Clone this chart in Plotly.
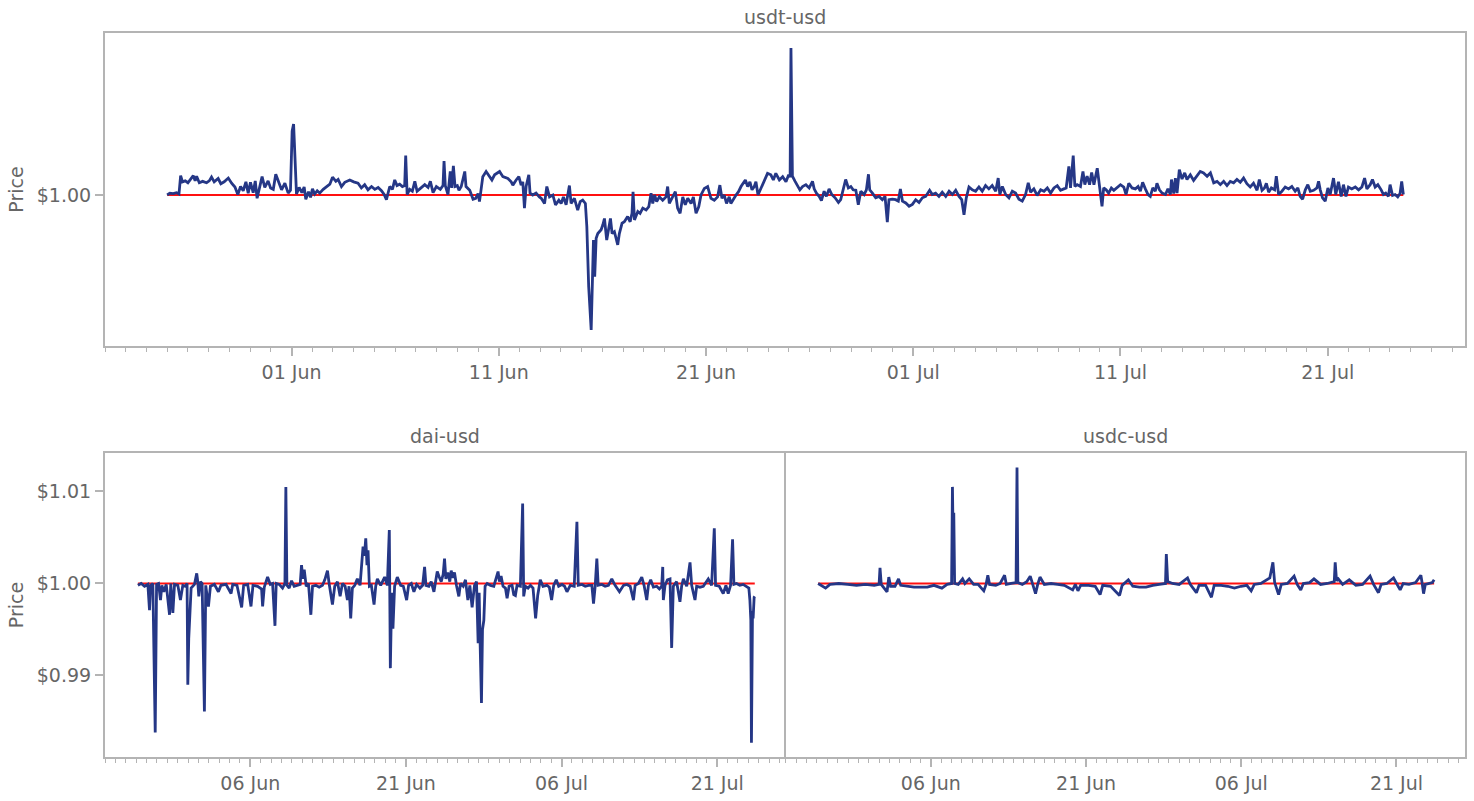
import plotly.graph_objects as go
import pandas as pd

START = pd.Timestamp("2022-05-23")
X_RANGE = ["2022-05-23", "2022-07-27 15:00"]

# usdt-usd: time (days after 23 May 2022) and deviation from $1 in basis points
usdt_day = [3.00, 3.13, 3.29, 3.45, 3.57, 3.65, 3.74, 3.87, 4.00, 4.10, 4.26, 4.35, 4.42, 4.55, 4.71, 4.90,
            5.03, 5.14, 5.27, 5.46, 5.59, 5.75, 5.95, 6.11, 6.27, 6.41, 6.54, 6.67, 6.80, 6.91, 7.02, 7.15,
            7.25, 7.34, 7.47, 7.58, 7.71, 7.87, 7.99, 8.12, 8.24, 8.36, 8.52, 8.68, 8.84, 8.95, 9.03, 9.10,
            9.16, 9.24, 9.37, 9.50, 9.61, 9.69, 9.82, 9.92, 10.01, 10.12, 10.24, 10.36, 10.53, 10.69, 10.85,
            10.98, 11.14, 11.25, 11.41, 11.57, 11.81, 12.00, 12.21, 12.37, 12.53, 12.69, 12.86, 13.02, 13.18,
            13.34, 13.47, 13.58, 13.74, 13.87, 13.98, 14.09, 14.22, 14.35, 14.46, 14.51, 14.58, 14.70, 14.83,
            14.95, 15.06, 15.22, 15.43, 15.59, 15.70, 15.83, 15.99, 16.18, 16.31, 16.36, 16.42, 16.55, 16.66,
            16.73, 16.81, 16.89, 17.00, 17.08, 17.19, 17.36, 17.42, 17.60, 17.76, 17.89, 18.00,
            18.07, 18.23, 18.39, 18.55, 18.67, 18.80, 19.04, 19.20, 19.44, 19.60, 19.68, 19.84, 19.97, 20.08,
            20.16, 20.24, 20.32, 20.45, 20.51, 20.64, 20.80, 20.96, 21.05, 21.21, 21.32, 21.45, 21.61, 21.74,
            21.90, 22.01, 22.12, 22.25, 22.41, 22.49, 22.65, 22.81, 22.93, 23.05, 23.18, 23.25, 23.34, 23.46,
            23.50, 23.57, 23.63, 23.70, 23.78, 23.94, 24.02, 24.10, 24.21, 24.31, 24.39, 24.47, 24.58, 24.66,
            24.74, 24.82, 24.95, 25.06, 25.22, 25.34, 25.43, 25.48, 25.55, 25.71, 25.82, 25.95, 26.11, 26.24,
            26.35, 26.43, 26.52, 26.62, 26.75, 26.91, 27.07, 27.15, 27.23, 27.39, 27.52, 27.63, 27.75, 27.88,
            28.00, 28.12, 28.28, 28.39, 28.52, 28.65, 28.76, 28.92, 29.08, 29.24, 29.40, 29.56, 29.67, 29.77,
            29.88, 29.99, 30.12, 30.20, 30.37, 30.45, 30.57, 30.69, 30.90, 31.01, 31.12, 31.22, 31.33, 31.41,
            31.51, 31.65, 31.81, 31.97, 32.13, 32.25, 32.37, 32.54, 32.70, 32.86, 32.99,
            33.06, 33.10, 33.14, 33.17, 33.30, 33.41, 33.53, 33.66, 33.82, 33.98, 34.14, 34.22, 34.33, 34.46,
            34.57, 34.70, 34.81, 34.94, 35.07, 35.23, 35.39, 35.50, 35.66, 35.74, 35.87, 35.99, 36.10, 36.23,
            36.35, 36.47, 36.63, 36.74, 36.84, 36.90, 37.03, 37.19, 37.35, 37.51, 37.64, 37.75, 37.83, 37.99,
            38.15, 38.28, 38.38, 38.48, 38.64, 38.80, 38.96, 39.12, 39.28, 39.44, 39.60, 39.79, 39.92, 40.08,
            40.24, 40.40, 40.57, 40.73, 40.89, 41.05, 41.21, 41.34, 41.45, 41.56, 41.69, 41.85, 42.01, 42.17,
            42.33, 42.49, 42.65, 42.81, 42.98, 43.10, 43.18, 43.30, 43.46, 43.62, 43.78, 43.94, 44.10, 44.26,
            44.42, 44.55, 44.66, 44.82, 44.98, 45.15, 45.31, 45.47, 45.63, 45.79, 45.95, 46.11, 46.27, 46.38,
            46.51, 46.59, 46.72, 46.80, 46.91, 47.07, 47.19, 47.28, 47.39, 47.51, 47.61, 47.72, 47.88,
            48.11, 48.19, 48.31, 48.43, 48.56, 48.68, 48.84, 49.00, 49.16, 49.27, 49.40, 49.56, 49.72, 49.85,
            49.96, 50.07, 50.20, 50.33, 50.44, 50.56, 50.68, 50.76, 50.88, 51.01, 51.17, 51.29, 51.41, 51.46,
            51.57, 51.65, 51.73, 51.84, 51.97, 52.10, 52.21, 52.37, 52.53, 52.69, 52.85, 53.01, 53.18, 53.34,
            53.50, 53.66, 53.82, 53.98, 54.14, 54.30, 54.46, 54.62, 54.78, 54.94, 55.10, 55.26, 55.42, 55.59,
            55.70, 55.83, 55.95, 56.04, 56.15, 56.28, 56.44, 56.52, 56.63, 56.79, 56.95, 57.11, 57.27, 57.43,
            57.56, 57.67, 57.79, 57.92, 58.04, 58.16, 58.32, 58.48, 58.56, 58.64, 58.75, 58.88, 59.01, 59.12,
            59.28, 59.39, 59.52, 59.65, 59.76, 59.88, 60.00, 60.16, 60.33, 60.49, 60.65, 60.78, 60.89, 61.05,
            61.16, 61.29, 61.42, 61.58, 61.69, 61.80, 61.93, 62.01, 62.13, 62.25, 62.38, 62.49, 62.57, 62.65]
usdt_bp = [0.0, 0.4, 0.3, 0.5, 0.2, 4.1, 2.8, 3.0, 2.6, 3.2, 4.1, 3.0, 4.0, 2.6, 2.9, 2.6,
           3.0, 3.8, 2.8, 3.5, 2.4, 2.8, 3.6, 2.5, 1.7, 0.1, 1.8, 0.9, 2.8, 0.4, 2.7, 0.5,
           3.0, -0.7, 2.2, 3.9, 1.6, 3.0, 1.5, 1.2, 4.4, 2.8, 1.1, 2.5, 0.4, 1.0, 13.6, 15.1,
           9.0, 0.2, 1.6, 0.5, 1.7, -0.9, 0.7, -0.5, 1.3, 0.2, 0.9, 0.4, 1.2, 1.8, 2.3,
           3.8, 2.9, 3.3, 1.8, 2.7, 3.2, 2.8, 2.5, 1.5, 2.2, 1.1, 1.8, 1.2, 1.6,
           0.9, 0.1, -1.0, 1.8, 1.2, 3.2, 2.0, 2.3, 1.8, 2.0, 8.4, 0.1, 1.2, 0.8,
           2.9, 0.8, 1.4, 2.2, 1.6, 2.9, 0.5, 1.8, 1.2, 2.0, 7.2, 2.0, 0.1, 5.0,
           1.5, 6.2, 1.8, 2.0, 1.0, 1.8, 5.0, 1.8, 1.0, -0.9, -0.7, 0.3,
           -1.4, 3.9, 5.0, 3.9, 3.2, 4.3, 5.0, 3.9, 3.5, 2.8, 2.1, 3.2, 3.9, 2.1,
           2.8, -2.8, 1.8, 4.3, 0.4, 0.0, 0.4, -0.4, -0.7, -1.8, 1.8, -0.4, 0.0, -2.1,
           -1.1, -1.8, -0.4, -2.1, 2.0, -1.8, -0.7, -3.2, -1.4, -1.1, -1.8, -6.7, -19.5, -28.7,
           -20.9, -9.6, -17.4, -9.2, -8.2, -7.4, -6.4, -5.0, -9.6, -6.7, -5.0, -8.2, -7.8, -9.2,
           -10.6, -8.2, -6.0, -5.7, -4.6, -5.7, -3.9, 0.7, -5.3, -3.5, -3.9, -2.8, -3.2, -2.5,
           0.4, -1.8, 0.0, -1.4, -0.4, -1.1, -0.4, 1.8, -1.8, -0.4, 0.7, -2.8, -3.9, -0.4,
           -2.1, -0.7, -1.8, -0.4, -3.9, -2.5, 0.0, 1.4, 1.8, -0.7, -1.1, -0.4, 2.1, -0.7,
           0.0, -1.8, -0.4, -1.8, -0.4, 0.0, 0.7, 1.8, 3.2, 1.8, 2.8, 1.1, 1.8, 2.8,
           0.0, 1.4, 2.8, 4.6, 4.3, 3.2, 4.6, 3.2, 3.9, 2.8, 4.3,
           3.8, 31.3, 9.0, 4.0, 2.9, 2.0, 1.1, 1.8, 2.2, 1.5, 2.9, 1.3, 0.4, -0.3,
           -1.2, 0.8, -0.3, 1.3, 0.1, -0.6, -1.6, -1.0, 1.8, 3.3, 1.5, 1.8, 1.1, 1.0,
           -2.1, 0.8, 0.1, 1.1, 4.4, 1.1, 0.4, -0.6, -0.3, -1.0, -0.3, -5.8, -1.0, -0.9,
           -1.0, -1.3, 1.3, -1.3, -1.7, -2.4, -2.0, -1.0, -1.6, -0.6, -0.3, 1.0, 0.1, 0.4,
           -0.3, 0.6, -0.3, 0.8, 0.1, 1.0, -0.3, -1.0, -4.2, -0.6, 1.7, 1.1, 0.8, 1.7,
           0.8, 2.0, 1.3, 2.0, 0.8, 3.6, 0.1, 1.8, 0.1, -0.6, 0.8, 0.4, -0.9, -1.3,
           0.1, 2.6, 0.6, 1.3, -0.1, 1.1, 0.8, 1.5, 0.4, 1.5, 2.0, 1.0, 1.3, 1.5,
           6.1, 1.5, 8.4, 1.8, 2.2, 1.8, 5.0, 2.2, 4.0, 2.2, 4.8, 2.2, 5.7,
           -2.4, 1.5, 1.1, 0.4, 1.5, 1.0, 1.7, 2.2, 1.7, 0.1, 2.5, 1.5, 1.3, 1.8,
           0.8, 2.7, 1.3, 0.1, -0.3, 1.5, 0.8, 2.5, 1.1, 0.4, 0.1, 1.3, 0.1, 3.3,
           0.3, 3.6, 0.4, 5.4, 3.4, 4.7, 3.3, 4.3, 3.1, 4.0, 5.0, 4.7, 4.0, 4.7,
           2.6, 2.9, 2.2, 2.9, 2.0, 2.9, 2.6, 3.3, 2.7, 3.6, 2.4, 1.7, 2.5, 1.0,
           3.3, 1.0, 1.5, 2.5, 0.6, 1.5, 1.1, 4.0, 0.1, 0.8, 1.7, 1.3, 1.8, 0.8,
           1.5, -0.3, -0.9, 1.1, 2.2, 0.8, 1.0, 1.5, 2.9, 1.1, -0.6, -1.3, 1.5, 0.1,
           3.6, 0.1, 2.8, -0.3, 2.2, -0.3, 1.7, 1.3, 1.7, 1.1, 1.7, 3.6, 1.3, 2.2,
           3.3, 1.7, 2.2, 1.1, 0.1, 0.4, -0.3, 2.2, -0.1, 0.1, -0.4, 0.3, 2.9, 0.1]

# dai-usd
dai_day = [3.17, 3.49, 3.81, 4.13, 4.29, 4.39, 4.61, 4.84, 4.97, 5.16, 5.35, 5.48, 5.67, 5.90, 6.22, 6.34,
           6.54, 6.70, 7.02, 7.27, 7.50, 7.75, 7.91, 7.98, 8.07, 8.17, 8.30, 8.62, 8.84, 8.94, 9.04, 9.20,
           9.36, 9.58, 9.71, 9.97, 10.16, 10.54, 10.93, 11.18, 11.66, 12.15, 12.31, 12.72, 13.17, 13.36,
           13.75, 14.07, 14.26, 14.71, 15.09, 15.19, 15.35, 15.67, 15.93, 16.15, 16.38, 16.50, 16.79, 17.11,
           17.34, 17.43, 17.53, 17.75, 17.98, 18.23, 18.56, 18.81, 18.94, 19.07, 19.20, 19.39, 19.61, 19.84,
           20.00, 20.32, 20.64, 20.96, 21.18, 21.44, 21.60, 21.92, 22.14, 22.40, 22.66, 22.88, 23.14, 23.36,
           23.52, 23.68, 23.84, 24.07, 24.32, 24.58, 24.87, 25.00, 25.13, 25.25, 25.35, 25.48, 25.67, 25.93,
           26.09, 26.25, 26.57, 26.95, 27.21, 27.40, 27.50, 27.63, 27.75, 27.91, 28.17, 28.49, 28.75, 29.07,
           29.26, 29.52, 29.77, 30.03, 30.35, 30.61, 30.80, 30.93, 31.21, 31.44, 31.70, 31.86, 32.02, 32.21,
           32.40, 32.59, 32.72, 32.85, 33.04, 33.23, 33.36, 33.55, 33.68, 33.87, 34.10,
           34.26, 34.52, 34.74, 34.97, 35.16, 35.38, 35.61, 35.80, 35.96, 36.06, 36.15, 36.28, 36.38, 36.51,
           36.63, 36.83, 37.15, 37.47, 37.88, 38.01, 38.17, 38.36, 38.59, 38.75, 38.94, 39.23, 39.39, 39.55,
           39.71, 40.03, 40.25, 40.35, 40.51, 40.77, 41.00, 41.25, 41.50, 41.70, 41.95, 42.21, 42.59, 42.82,
           43.04, 43.24, 43.49, 43.72, 44.04, 44.29, 44.52, 44.84, 45.22, 45.48, 45.61, 45.96, 46.28, 46.60,
           46.92, 47.08, 47.24, 47.40, 47.53, 47.88, 48.20, 48.52, 48.84, 49.16, 49.58, 49.97, 50.29, 50.61,
           50.93, 51.09, 51.41, 51.73, 51.95, 52.21, 52.37, 52.59, 52.85, 53.17, 53.43, 53.65, 53.75, 53.81,
           53.97, 54.20, 54.45, 54.61, 54.77, 55.09, 55.41, 55.57, 55.74, 56.06, 56.38, 56.54, 56.70, 56.86,
           57.02, 57.34, 57.66, 58.14, 58.46, 58.72, 58.84, 59.20, 59.58, 59.84, 60.06, 60.29, 60.48, 60.61,
           60.86, 61.18, 61.50, 61.82, 62.05, 62.15, 62.24, 62.30, 62.40, 62.46, 62.56, 62.62]
dai_bp = [-2, 0, -3, -1, -29, -2, 0, -162, -1, 0, -18, -2, -9, -1, -34, 0,
          -32, -1, -2, -18, -2, -3, 0, -110, -60, -36, -5, -1, 11, 2, -14, 2,
          0, -139, -2, -25, -3, -1, -9, -2, -1, -11, -1, -2, -26, -2,
          -1, -25, -2, -3, -6, -25, -4, 7, -1, 0, -46, 0, -1, -5,
          0, 105, -2, -5, 3, -3, -2, -1, 20, 5, 15, -3, 0, -34,
          -3, -2, -4, -2, 4, 14, 0, -23, -3, 2, -14, 0, -3, -18,
          -3, -38, -5, -2, 5, -2, 40, 30, 49, 20, 36, -3, -2, -23,
          -3, 5, -2, 7, -2, 58, -92, -10, -49, -3, 7, -2, -3, -18,
          -2, 0, -9, -1, -5, -2, 18, -2, -3, 2, -9, 2, 13, 7,
          2, 10, 27, 5, 12, 2, 14, 6, 12, -2, -14,
          0, -3, 4, -18, -2, -26, -2, 2, -65, -10, -64, -130, -50, -40,
          -3, 0, -2, -3, 13, 2, 8, -3, -5, -16, -3, -2, -12, -13,
          -2, -3, 87, -14, -3, -5, -2, -5, -38, -13, 4, -3, -2, -4,
          -18, -2, 4, -3, -1, -3, -9, -2, -3, 67, -2, -1, -3, -2,
          -2, -22, -3, 27, -2, -1, -3, -2, 5, -2, -9, -2, -1, -3,
          -18, -2, 0, 7, -2, -18, -2, 4, -4, -3, -6, -3, 18, -18,
          -2, 4, 5, -70, -3, 2, -20, -3, 5, -3, 23, -2, -10, -18,
          -3, -4, -3, 5, -2, 60, -2, -3, -11, -2, -11, -2, 48, -1,
          0, -2, -1, -3, -5, -18, -40, -173, -30, -38, -15, -14]

# usdc-usd
usdc_day = [3.11, 3.83, 4.26, 5.11, 5.97, 6.82, 7.68, 8.53, 9.00, 9.09, 9.21, 9.77, 9.94, 10.11, 10.54, 10.88,
            11.09, 11.73, 12.38, 13.02, 13.66, 14.30, 15.07, 15.58, 16.01, 16.09, 16.18, 16.22, 16.30, 16.65,
            17.07, 17.29, 17.71, 18.14, 18.57, 19.12, 19.34, 19.51, 19.68, 20.28, 20.70, 21.13, 21.30, 21.77,
            22.24, 22.33, 22.41, 22.84, 23.27, 23.61, 23.87, 24.12, 24.33, 24.55, 24.97, 25.62, 26.26, 26.90,
            27.71, 27.97, 28.22, 28.48, 29.25, 29.89, 30.36, 30.61, 31.38, 32.24, 32.49, 33.09, 33.52, 34.16,
            34.80, 35.44, 36.08, 36.68, 36.76, 36.89, 37.36, 38.00, 38.81, 39.07, 39.67, 39.92, 40.56, 41.12,
            41.38, 42.06, 42.70, 43.34, 43.98, 44.54, 44.96, 45.26, 45.90, 46.76, 47.06, 47.23, 47.61, 47.87,
            48.47, 49.11, 49.41, 49.75, 50.00, 50.60, 51.03, 51.67, 52.31, 52.99, 53.08, 53.21, 53.38, 53.80,
            54.44, 55.08, 55.73, 56.45, 56.79, 57.26, 57.52, 58.07, 58.72, 59.06, 59.36, 59.65, 60.21, 60.85,
            61.36, 61.49, 61.62, 61.79, 62.13, 62.47, 62.64]
usdc_bp = [0, -5, -1, 0, -1, -2, -1, -2, -1, 17, -1, -9, 7, -3, -3, 5,
           -2, -3, -4, -4, -4, -2, -5, -1, 0, 105, 30, 77, 0, -1,
           5, 0, 5, -1, -1, -8, -1, 9, -1, -2, 0, 9, -1, 0,
           1, 126, 1, -1, 2, 8, -1, -11, -1, 7, -1, 0, -1, -2,
           -7, -1, -8, -2, -2, -3, -12, -2, -3, -13, -2, 4, -3, -4,
           -4, -2, -1, 0, 32, 2, 0, -1, 6, -1, -10, -2, -2, -15,
           -2, -2, -3, -5, -3, -2, -8, -1, 0, 6, 23, 1, -12, -1,
           0, 8, -1, -7, 0, 1, 5, -1, 0, 2, 23, 3, 5, -1,
           4, -2, -1, 8, -1, -10, -1, 0, 6, -1, -7, 0, -1, 1,
           9, 0, -11, -1, 0, 1, 4]

BLUE = "#253786"
RED = "#ff1010"
AXC = "#b4b4b4"
TXT = "#666666"
FONT = "DejaVu Sans"
FS = 19


def to_x(days):
    return [START + pd.Timedelta(days=d) for d in days]


def to_price(bp):
    return [1 + b / 10000 for b in bp]


series = [("usdt", usdt_day, usdt_bp, "x", "y"),
          ("dai", dai_day, dai_bp, "x2", "y2"),
          ("usdc", usdc_day, usdc_bp, "x3", "y3")]

fig = go.Figure()
for name, d, bp, xa, ya in series:
    xs = to_x(d)
    fig.add_trace(go.Scatter(x=[xs[0], xs[-1]], y=[1.0, 1.0], mode="lines",
                             line=dict(color=RED, width=2.2), xaxis=xa, yaxis=ya,
                             showlegend=False, hoverinfo="skip"))
    fig.add_trace(go.Scatter(x=xs, y=to_price(bp), mode="lines", name=name,
                             line=dict(color=BLUE, width=2.8), xaxis=xa, yaxis=ya,
                             showlegend=False))


def xaxis(domain, anchor, dtick_days, tick0):
    return dict(domain=domain, anchor=anchor, type="date", range=X_RANGE,
                tickformat="%d %b", dtick=dtick_days * 86400000, tick0=tick0,
                ticks="outside", ticklen=8, tickwidth=1.5, tickcolor=AXC,
                showline=True, linecolor=AXC, linewidth=2, mirror=True,
                showgrid=False, zeroline=False,
                tickfont=dict(family=FONT, size=FS, color=TXT),
                minor=dict(dtick=86400000, tick0="2022-05-23", ticks="outside",
                           ticklen=4, tickwidth=1, tickcolor=AXC, showgrid=False))


def yaxis(domain, anchor, rng, tickvals, labels=True, title=None, mirror=True):
    d = dict(domain=domain, anchor=anchor, range=rng, tickvals=tickvals,
             tickformat="$.2f", ticks="outside" if labels else "", ticklen=8,
             tickwidth=1.5, tickcolor=AXC, showticklabels=labels,
             showline=True, linecolor=AXC, linewidth=2, mirror=mirror,
             showgrid=False, zeroline=False,
             tickfont=dict(family=FONT, size=FS, color=TXT))
    if title:
        d["title"] = dict(text=title, font=dict(family=FONT, size=FS, color=TXT), standoff=8)
    return d


TOP_DOM = [0.5677, 1.0]
BOT_DOM = [0.0, 0.4199]
SPLIT = 0.5007

fig.update_layout(
    width=1474, height=801,
    margin=dict(l=105, r=7, t=33, b=44),
    paper_bgcolor="white", plot_bgcolor="white",
    font=dict(family=FONT, size=FS, color=TXT),
    xaxis=xaxis([0, 1], "y", 10, "2022-06-01"),
    yaxis=yaxis(TOP_DOM, "x", [0.996787, 1.003447], [1.0], True, "Price"),
    xaxis2=xaxis([0, SPLIT], "y2", 15, "2022-06-06"),
    yaxis2=yaxis(BOT_DOM, "x2", [0.981141, 1.014185], [0.99, 1.0, 1.01], True, "Price", mirror=False),
    xaxis3=xaxis([SPLIT, 1], "y3", 15, "2022-06-06"),
    yaxis3=yaxis(BOT_DOM, "x3", [0.981141, 1.014185], [0.99, 1.0, 1.01], False),
    annotations=[
        dict(text="usdt-usd", x=0.5, y=1.022, xref="paper", yref="paper",
             showarrow=False, xanchor="center", yanchor="middle",
             font=dict(family=FONT, size=FS, color=TXT)),
        dict(text="dai-usd", x=SPLIT / 2, y=0.4434, xref="paper", yref="paper",
             showarrow=False, xanchor="center", yanchor="middle",
             font=dict(family=FONT, size=FS, color=TXT)),
        dict(text="usdc-usd", x=(1 + SPLIT) / 2, y=0.4434, xref="paper", yref="paper",
             showarrow=False, xanchor="center", yanchor="middle",
             font=dict(family=FONT, size=FS, color=TXT)),
    ],
)

fig.write_html("out.html", config={"displayModeBar": False},
               post_script="document.body.style.margin='0';")
